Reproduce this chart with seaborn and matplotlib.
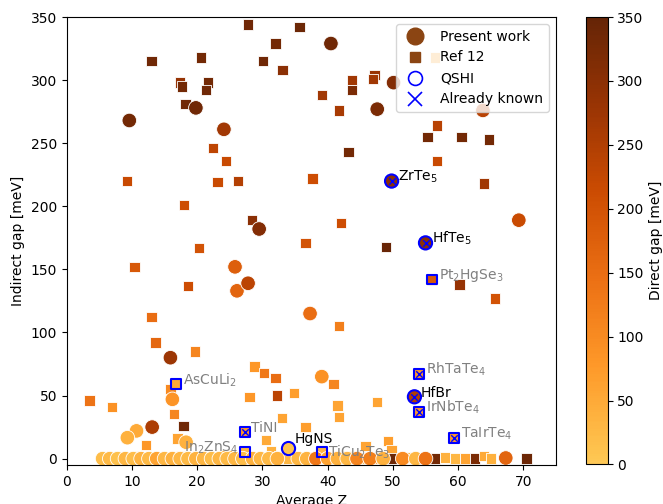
import numpy as np
import pandas as pd
import seaborn as sns
import matplotlib.pyplot as plt
from matplotlib.colors import ListedColormap, Normalize
from matplotlib.cm import ScalarMappable
from matplotlib.lines import Line2D

# present work: average Z, indirect gap, direct gap (meV)
pw_z = [9.6, 19.8, 24.1, 29.5, 25.8, 26.1, 27.8, 37.3, 15.9, 16.2, 10.7, 9.3, 13.1, 18.3,
        34.0, 39.1, 40.5, 47.6, 50.1, 63.8, 69.3, 49.8, 55.0, 53.3, 67.3,
        5.5, 6.6, 7.8, 9.0, 10.2, 11.4, 12.6, 13.8, 15.0, 16.2, 17.4, 18.6, 19.8, 21.0,
        22.2, 23.4, 24.6, 25.8, 27.0, 28.5, 29.7, 31.0, 32.3, 35.5, 36.8, 38.2, 40.0,
        41.5, 43.0, 44.5, 46.5, 48.5, 51.5, 53.5, 55.0]
pw_gap = [268, 278, 261, 182, 152, 133, 139, 115, 80, 47, 22, 16.6, 25, 13,
          8, 65, 329, 277, 298, 276, 189, 220, 171, 49, 0.5,
          0, 0, 0, 0, 0, 0, 0, 0, 0, 0, 0, 0, 0, 0,
          0, 0, 0, 0, 0, 0, 0, 0, 0, 0, 0, 0, 0,
          0, 0, 0, 0, 0, 0, 0, 0]
pw_direct = [330, 335, 270, 310, 175, 165, 235, 150, 275, 85, 50, 40, 255, 40,
             10, 90, 335, 320, 310, 240, 215, 300, 300, 250, 165,
             20, 25, 15, 30, 20, 35, 25, 60, 30, 40, 30, 25, 35, 30,
             20, 30, 25, 30, 20, 40, 30, 25, 40, 30, 35, 130, 60,
             40, 30, 110, 120, 40, 100, 30, 140]

# Ref 12
ref_z = [27.8, 35.7, 32.0, 13.0, 20.6, 30.1, 33.1, 17.4, 17.7, 21.7, 21.4, 18.2, 22.4, 24.4,
         9.2, 23.1, 26.3, 43.7, 43.7, 47.2, 47.0, 39.1, 41.7, 56.8, 55.3, 60.5, 64.7, 43.2,
         56.8, 37.7, 64.0, 48.9, 60.2, 65.6, 56.0, 18.0, 28.4, 36.6, 20.3, 10.4, 18.6, 13.0,
         13.6, 19.7, 28.8, 42.0, 41.7, 30.2, 32.0, 3.5, 6.9, 15.9, 16.5, 17.9, 12.2, 17.0,
         28.0, 32.2, 34.8, 33.0, 30.5, 36.6, 16.8, 27.3, 27.3, 31.3, 41.5, 41.7, 47.6, 45.8,
         49.2, 49.8, 54.0, 54.0, 59.4, 39.1, 40.9, 56.5,
         6.0, 7.5, 9.0, 10.5, 12.0, 13.0, 14.5, 16.0, 17.5, 19.0, 20.5, 21.5, 23.0, 24.5,
         25.5, 27.0, 29.5, 31.0, 32.5, 34.0, 35.5, 37.0, 40.5, 43.0, 45.0, 47.5, 49.8, 52.0,
         53.5, 56.5, 58.0, 59.5, 61.0, 62.6, 64.0, 65.0, 70.5]
ref_gap = [344, 342, 329, 315, 318, 315, 308, 298, 295, 298, 292, 281, 246, 236,
           220, 219, 220, 300, 292, 304, 301, 288, 276, 264, 255, 255, 253, 243,
           236, 222, 218, 168, 138, 127, 142, 201, 189, 171, 167, 152, 137, 112,
           92, 85, 73, 187, 105, 68, 64, 46, 41, 55, 35.5, 26, 11, 16,
           49, 50, 52, 32, 15, 25, 59, 21, 5.5, 6, 42, 33, 45, 10,
           14, 7, 67, 37, 16.5, 5.5, 59, 318,
           0, 1, 0, 2, 0, 1, 0, 0, 2, 0, 0, 1, 0, 3,
           0, 0, 1, 0, 2, 0, 0, 1, 0, 2, 0, 0, 0, 1,
           0, 0, 1, 0, 0, 0, 2, 0, 0]
ref_direct = [335, 340, 330, 335, 330, 335, 300, 285, 330, 330, 335, 335, 230, 220,
              220, 215, 245, 270, 320, 280, 270, 270, 260, 240, 330, 330, 330, 330,
              220, 210, 270, 345, 285, 200, 190, 210, 300, 200, 200, 190, 210, 150,
              160, 110, 80, 210, 120, 130, 150, 140, 90, 100, 110, 335, 80, 60,
              80, 235, 70, 60, 50, 70, 50, 80, 30, 40, 60, 60, 60, 60,
              70, 60, 80, 80, 80, 30, 110, 50,
              20, 30, 40, 60, 340, 30, 250, 40, 30, 320, 20, 50, 60, 30,
              40, 20, 50, 30, 90, 30, 60, 40, 110, 40, 30, 70, 340, 40,
              60, 330, 40, 30, 60, 320, 50, 40, 340]

# labelled materials
lab_names = [r'ZrTe$_5$', r'HfTe$_5$', 'HfBr', 'HgNS', r'Pt$_2$HgSe$_3$', r'RhTaTe$_4$',
             r'IrNbTe$_4$', r'TaIrTe$_4$', r'AsCuLi$_2$', 'TiNI', r'In$_2$ZnS$_4$',
             r'TiCu$_2$Te$_3$']
lab_z = [49.8, 55.0, 53.3, 34.0, 56.0, 54.0, 54.0, 59.4, 16.8, 27.3, 27.3, 39.1]
lab_gap = [220, 171, 49, 8, 142, 67, 37, 16.5, 59, 21, 5.5, 5.5]
lab_present = [True, True, True, True, False, False, False, False, False, False, False, False]
lab_known = [True, True, True, False, False, True, True, True, False, True, False, False]
lab_dy = [0, 0, 0, 4, 0, 0, 0, 0, 0, 0, 0, -4]

cmap = ListedColormap(plt.cm.YlOrBr(np.linspace(0.36, 1.0, 256)))
norm = Normalize(0, 350)

pw = pd.DataFrame({'z': pw_z, 'gap': pw_gap, 'direct': pw_direct})
ref = pd.DataFrame({'z': ref_z, 'gap': ref_gap, 'direct': ref_direct})
lab = pd.DataFrame({'name': lab_names, 'z': lab_z, 'gap': lab_gap,
                    'present': lab_present, 'known': lab_known, 'dy': lab_dy})

fig = plt.figure(figsize=(6.63, 5.04), dpi=100)
ax = fig.add_axes([0.1006, 0.0775, 0.738, 0.8887])
cax = fig.add_axes([0.8834, 0.0785, 0.0332, 0.8877])

sns.scatterplot(data=ref, x='z', y='gap', hue='direct', palette=cmap, hue_norm=norm,
                marker='s', s=55, edgecolor='w', linewidth=0.6, legend=False, ax=ax)
sns.scatterplot(data=pw, x='z', y='gap', hue='direct', palette=cmap, hue_norm=norm,
                marker='o', s=110, edgecolor='w', linewidth=0.6, legend=False, ax=ax)

# QSHI rings and already-known crosses
for present, mk, size in [(True, 'o', 90), (False, 's', 50)]:
    sub = lab[lab['present'] == present]
    ax.scatter(sub['z'], sub['gap'], marker=mk, s=size, facecolors='none',
               edgecolors='blue', linewidths=1.5)
known = lab[lab['known']]
ax.scatter(known['z'], known['gap'], marker='x', s=22, color='blue', linewidths=1)

for _, r in lab.iterrows():
    col = 'black' if r['present'] else 'gray'
    if r['name'].startswith('In'):
        ax.text(r['z'] - 1, r['gap'] + r['dy'], r['name'], color=col, fontsize=10, ha='right')
    else:
        ax.text(r['z'] + 1, r['gap'] + r['dy'], r['name'], color=col, fontsize=10)

ax.set_xlim(0, 75)
ax.set_ylim(-5, 350)
ax.set_xlabel('Average Z')
ax.set_ylabel('Indirect gap [meV]')

cb = fig.colorbar(ScalarMappable(norm=norm, cmap=cmap), cax=cax)
cb.set_label('Direct gap [meV]')
cb.set_ticks(range(0, 351, 50))

handles = [
    Line2D([], [], marker='o', ls='', color='#8b4513', markersize=12, label='Present work'),
    Line2D([], [], marker='s', ls='', color='#8b4513', markersize=7, label='Ref 12'),
    Line2D([], [], marker='o', ls='', markerfacecolor='none', markeredgecolor='blue',
           markersize=10, markeredgewidth=1.2, label='QSHI'),
    Line2D([], [], marker='x', ls='', color='blue', markersize=10, markeredgewidth=1.2,
           label='Already known'),
]
ax.legend(handles=handles, loc='upper right')

fig.savefig('out.png', dpi=100)
